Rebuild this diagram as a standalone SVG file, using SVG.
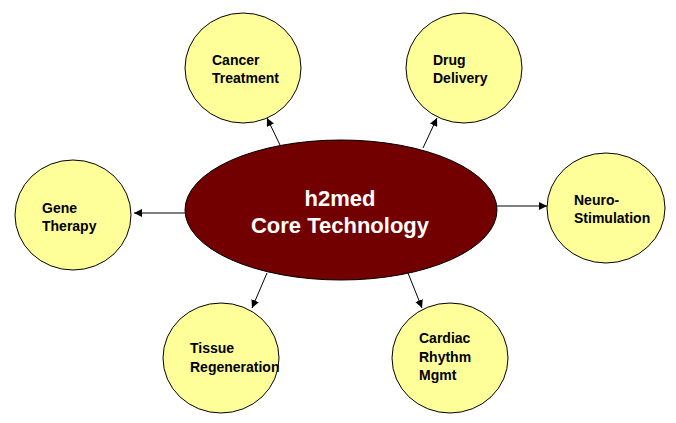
<svg xmlns="http://www.w3.org/2000/svg" width="676" height="423" viewBox="0 0 676 423">
<defs>
<style>
.sat{fill:#FFFF99;stroke:#000;stroke-width:1}
.core{fill:#730000;stroke:#000;stroke-width:1}
.lbl{font-family:"Liberation Sans",Arial,sans-serif;font-weight:bold;font-size:14px;fill:#000}
.clbl{font-family:"Liberation Sans",Arial,sans-serif;font-weight:bold;font-size:22px;fill:#fff}
.conn{stroke:#000;stroke-width:1;fill:none;marker-end:url(#arr)}
</style>
<marker id="arr" viewBox="0 0 10 10" refX="10" refY="5" markerWidth="8" markerHeight="8" markerUnits="userSpaceOnUse" orient="auto">
<path d="M0,0 L10,5 L0,10 Z" fill="#000"/>
</marker>
</defs>
<rect width="676" height="423" fill="#fff"/>
<g id="connectors">
<line class="conn" x1="280" y1="145" x2="267" y2="118"/>
<line class="conn" x1="423" y1="148" x2="437" y2="118"/>
<line class="conn" x1="185" y1="213" x2="134" y2="213"/>
<line class="conn" x1="497" y1="206" x2="547" y2="206"/>
<line class="conn" x1="267" y1="273" x2="252" y2="308"/>
<line class="conn" x1="408" y1="273" x2="422" y2="308"/>
</g>
<g id="core">
<ellipse class="core" cx="341" cy="210" rx="156" ry="70"/>
<text class="clbl" x="340" y="206" text-anchor="middle">h2med</text>
<text class="clbl" x="340" y="233" text-anchor="middle">Core Technology</text>
</g>
<g id="cancer">
<ellipse class="sat" cx="243" cy="68" rx="58" ry="55"/>
<text class="lbl" x="212" y="65">Cancer</text>
<text class="lbl" x="212" y="83">Treatment</text>
</g>
<g id="drug">
<ellipse class="sat" cx="464" cy="68" rx="58" ry="55"/>
<text class="lbl" x="433" y="65">Drug</text>
<text class="lbl" x="433" y="83">Delivery</text>
</g>
<g id="gene">
<ellipse class="sat" cx="73" cy="215" rx="58" ry="55"/>
<text class="lbl" x="42" y="213">Gene</text>
<text class="lbl" x="42" y="231">Therapy</text>
</g>
<g id="neuro">
<ellipse class="sat" cx="606" cy="208" rx="59" ry="55"/>
<text class="lbl" x="574" y="205">Neuro-</text>
<text class="lbl" x="574" y="223">Stimulation</text>
</g>
<g id="tissue">
<ellipse class="sat" cx="221" cy="358" rx="58" ry="55"/>
<text class="lbl" x="190" y="353">Tissue</text>
<text class="lbl" x="190" y="372">Regeneration</text>
</g>
<g id="cardiac">
<ellipse class="sat" cx="450" cy="358" rx="58" ry="55"/>
<text class="lbl" x="419" y="343">Cardiac</text>
<text class="lbl" x="419" y="362">Rhythm</text>
<text class="lbl" x="419" y="380">Mgmt</text>
</g>
</svg>
